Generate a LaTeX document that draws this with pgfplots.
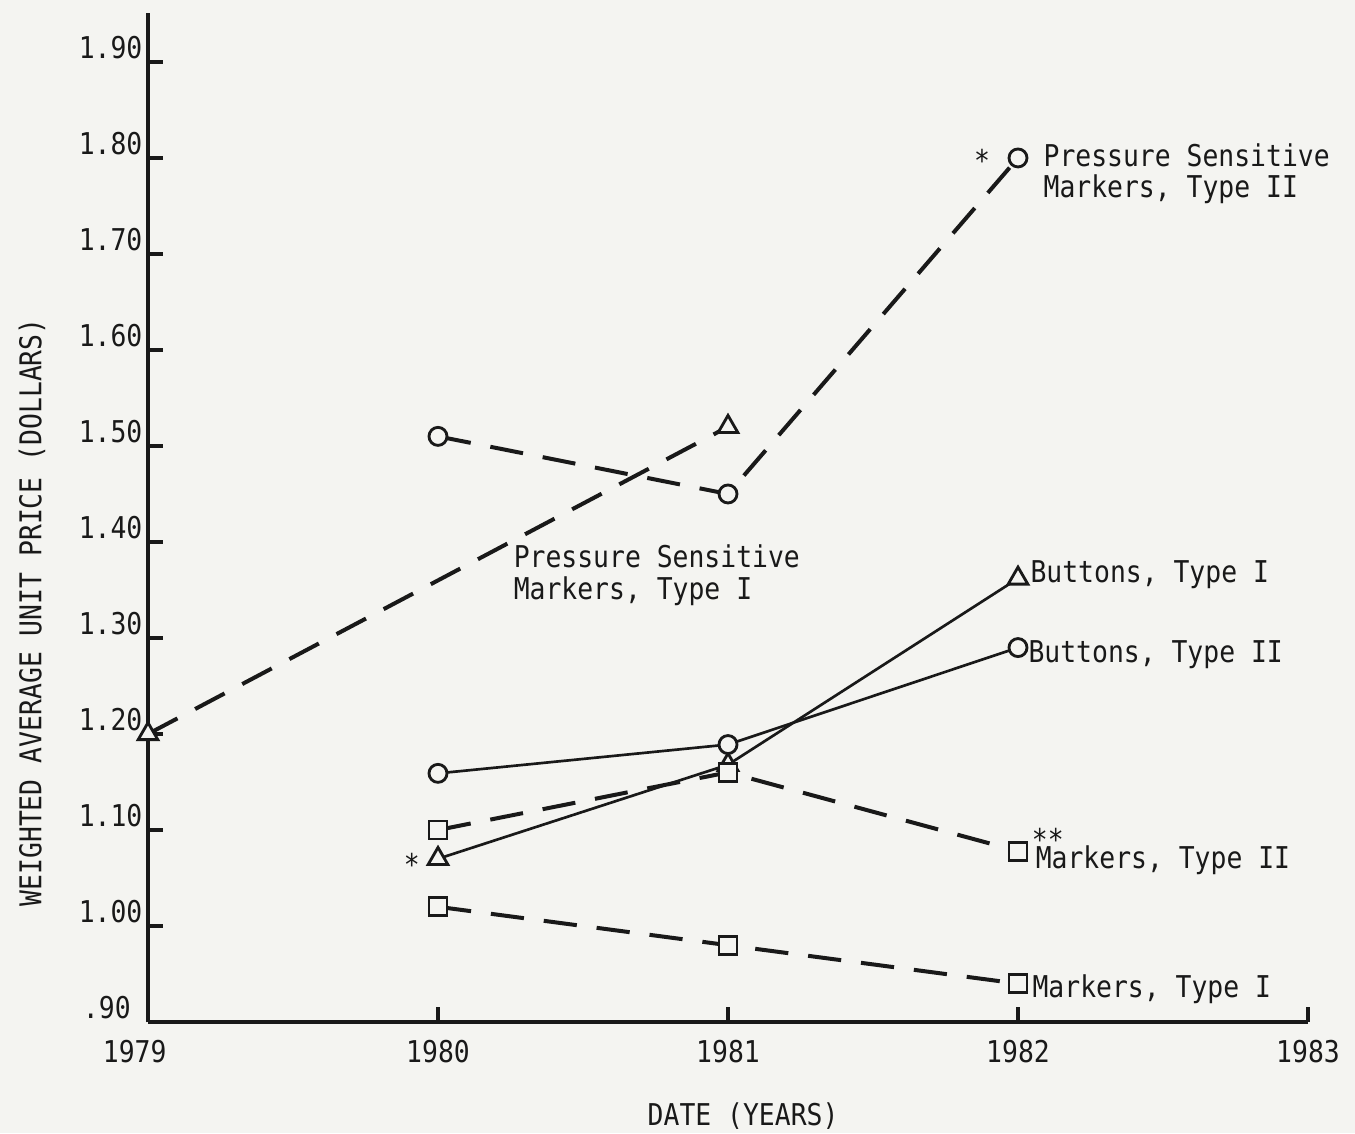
\documentclass[border=0pt]{standalone}
\usepackage{fontspec}
\setmainfont[FakeStretch=0.88]{DejaVu Sans Mono}
\usepackage{pgfplots}
\pgfplotsset{compat=1.18}
\usetikzlibrary{backgrounds}
\definecolor{bg}{RGB}{244,244,241}
\definecolor{ink}{RGB}{25,25,25}
\begin{document}
\fontsize{9pt}{9.3pt}\selectfont
\begin{tikzpicture}[font=\fontsize{9pt}{9.3pt}\selectfont]
\begin{axis}[
  at={(0,0)}, anchor=south west,
  scale only axis, width=348pt, height=302.7pt,
  xmin=1979, xmax=1983, ymin=0.9, ymax=1.951,
  axis lines=left, axis line style={-, line width=1.4pt, color=ink},
  tick align=inside, major tick length=4.5pt,
  tick style={line width=1pt, color=ink},
  xtick={1979,1980,1981,1982,1983},
  xticklabels={1979\kern8pt,1980,1981,1982,1983},
  ytick={0.9,1,1.1,1.2,1.3,1.4,1.5,1.6,1.7,1.8,1.9},
  yticklabels={.90\kern3.5pt,1.00,1.10,1.20,1.30,1.40,1.50,1.60,1.70,1.80,1.90},
  xticklabel style={anchor=north, inner sep=0pt, yshift=-5.4pt, text=ink},
  yticklabel style={anchor=base east, inner sep=0pt, xshift=-1.5pt, yshift=1pt, text=ink},
  xlabel={DATE (YEARS)},
  ylabel={WEIGHTED AVERAGE UNIT PRICE (DOLLARS)},
  xlabel style={at={(axis description cs:0.513,0)}, anchor=north, inner sep=0pt, yshift=-24pt, text=ink},
  ylabel style={at={(axis description cs:-0.1,0.406)}, anchor=center, inner sep=0pt, text=ink},
  clip=false,
  dashline/.style={ink, line width=1.2pt, dash pattern=on 10pt off 6pt,
     mark options={solid, fill=bg, line width=0.85pt}},
  solidline/.style={ink, line width=0.8pt,
     mark options={solid, fill=bg, line width=0.85pt}},
]
% Pressure Sensitive Markers, Type I
\addplot[dashline, mark=triangle*, mark size=3.4pt] coordinates {(1979,1.20) (1981,1.52)};
% Pressure Sensitive Markers, Type II
\addplot[dashline, mark=*, mark size=2.7pt] coordinates {(1980,1.51) (1981,1.45) (1982,1.80)};
% Buttons, Type I
\addplot[solidline, mark=triangle*, mark size=3.4pt] coordinates {(1980,1.07) (1981,1.168) (1982,1.362)};
% Buttons, Type II
\addplot[solidline, mark=*, mark size=2.7pt] coordinates {(1980,1.159) (1981,1.189) (1982,1.29)};
% Markers, Type II
\addplot[dashline, mark=square*, mark size=2.7pt] coordinates {(1980,1.10) (1981,1.16) (1982,1.078)};
% Markers, Type I
\addplot[dashline, mark=square*, mark size=2.7pt] coordinates {(1980,1.02) (1981,0.98) (1982,0.94)};

\node[anchor=base west, inner sep=0pt, text=ink] at (axis cs:1982.086,1.7906) {Pressure Sensitive};
\node[anchor=base west, inner sep=0pt, text=ink] at (axis cs:1982.086,1.7583) {Markers, Type II};
\node[anchor=center, inner sep=0pt, text=ink] at (axis cs:1981.876,1.797) {*};
\node[anchor=base west, inner sep=0pt, text=ink] at (axis cs:1980.259,1.3729) {Pressure Sensitive};
\node[anchor=base west, inner sep=0pt, text=ink] at (axis cs:1980.259,1.3396) {Markers, Type I};
\node[anchor=base west, inner sep=0pt, text=ink] at (axis cs:1982.041,1.3573) {Buttons, Type I};
\node[anchor=base west, inner sep=0pt, text=ink] at (axis cs:1982.034,1.274) {Buttons, Type II};
\node[anchor=base west, inner sep=0pt, text=ink] at (axis cs:1982.059,1.0604) {Markers, Type II};
\node[anchor=center, inner sep=0pt, text=ink] at (axis cs:1982.103,1.090) {\raisebox{0pt}[\height][-3.2pt]{**}};
\node[anchor=base west, inner sep=0pt, text=ink] at (axis cs:1982.048,0.926) {Markers, Type I};
\node[anchor=center, inner sep=0pt, text=ink] at (axis cs:1979.910,1.064) {*};
\end{axis}
\pgfresetboundingbox
\path[use as bounding box] (-44.4pt,-33.3pt) rectangle (362.1pt,306.6pt);
\begin{scope}[on background layer]
\fill[bg] (-44.4pt,-33.3pt) rectangle (362.1pt,306.6pt);
\end{scope}
\end{tikzpicture}
\end{document}
